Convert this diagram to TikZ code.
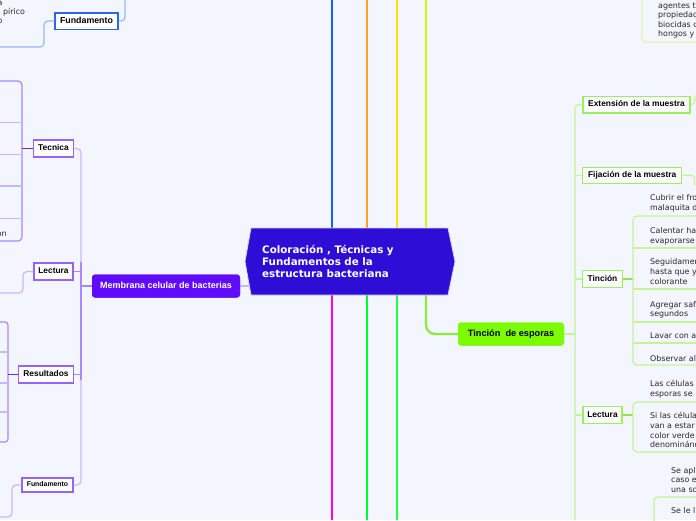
\documentclass[tikz,border=0pt]{standalone}
\usepackage{fontspec}
\setmainfont{Liberation Sans}
\newfontfamily\verd{DejaVu Sans}
\definecolor{bg}{RGB}{243,246,254}
\definecolor{cfill}{RGB}{46,14,214}
\definecolor{cborder}{RGB}{215,210,255}
\definecolor{violetf}{RGB}{96,12,250}
\definecolor{lawn}{RGB}{124,252,0}
\definecolor{cblue}{RGB}{20,95,240}
\definecolor{corange}{RGB}{255,160,30}
\definecolor{cyellow}{RGB}{255,222,0}
\definecolor{clime}{RGB}{204,255,0}
\definecolor{cmag}{RGB}{255,0,230}
\definecolor{cgreen}{RGB}{0,255,40}
\definecolor{cgreenb}{RGB}{30,255,70}
\definecolor{climeg}{RGB}{140,235,60}
\definecolor{purpB}{RGB}{150,100,252}
\definecolor{purpL}{RGB}{200,182,255}
\definecolor{purpM}{RGB}{170,135,255}
\definecolor{purpD}{RGB}{110,35,240}
\definecolor{greenB}{RGB}{155,240,95}
\definecolor{greenM}{RGB}{140,232,70}
\definecolor{lgreen}{RGB}{195,245,150}
\definecolor{ltop}{RGB}{222,245,170}
\definecolor{blueB}{RGB}{45,100,235}
\definecolor{blueL}{RGB}{150,185,255}
\definecolor{lav}{RGB}{195,185,255}
\definecolor{txt}{RGB}{40,40,40}
\tikzset{
  ttl/.style={draw, fill=white, line width=1.5pt, inner sep=0pt,
    font=\bfseries\fontsize{8.4}{10}\selectfont, text height=6.2pt, text depth=1.6pt},
  purpn/.style={ttl, draw=purpB},
  greenn/.style={ttl, draw=greenB},
  bluen/.style={ttl, draw=blueB, font=\bfseries\fontsize{8.8}{10}\selectfont},
  bodytxt/.style={anchor=west, inner sep=0pt, text=txt,
    font=\verd\fontsize{7.9}{9.8}\selectfont, text height=6pt, text depth=2pt},
  tailtxt/.style={bodytxt, anchor=east},
  conn/.style={line width=1.2pt, rounded corners=4pt},
  mainln/.style={line width=2.3pt},
}
\newcommand\bodyline[4]{\node[bodytxt] (#1) at (#2,#3) {#4};}
\begin{document}
\begin{tikzpicture}[x=1pt,y=-1pt]
\useasboundingbox (0,0) rectangle (696,520);
\fill[bg] (0,0) rectangle (696,520);
\clip (0,0) rectangle (696,520);

% ---------- nodes ----------
\node[minimum width=210pt, minimum height=67pt, inner sep=0pt] (C) at (350,261.5) {};
\node[fill=violetf, rounded corners=3pt, minimum width=148pt, minimum height=23pt, inner sep=0pt,
  text=white, font=\bfseries\fontsize{9}{11}\selectfont, text height=6.5pt, text depth=1.8pt] (M) at (166,286) {Membrana celular de bacterias};
\node[fill=lawn, rounded corners=3pt, minimum width=106pt, minimum height=23pt, inner sep=0pt,
  font=\bfseries\fontsize{9.2}{11}\selectfont, text height=6.6pt, text depth=1.8pt] (TE) at (511,334) {Tinción\ \ de esporas};

\node[bluen, minimum width=63pt, minimum height=16.5pt] (F1) at (86.5,21) {Fundamento};
\node[purpn, minimum width=40pt, minimum height=17pt] (Tec) at (53.5,148.5) {Tecnica};
\node[purpn, minimum width=39pt, minimum height=17pt] (Lec) at (53.5,271.5) {Lectura};
\node[purpn, minimum width=55pt, minimum height=17pt] (Res) at (46,374.5) {Resultados};
\node[purpn, minimum width=51pt, minimum height=14pt, font=\bfseries\fontsize{6.9}{8}\selectfont, text height=5pt, text depth=1.3pt] (F2) at (47.5,485) {Fundamento};

\node[greenn, minimum width=107pt, minimum height=16.5pt] (Ext) at (636.5,104.5) {Extensión de la muestra};
\node[greenn, minimum width=99pt, minimum height=16pt] (Fij) at (632.2,175.3) {Fijación de la muestra};
\node[greenn, minimum width=39.6pt, minimum height=16.6pt] (Tin) at (602.5,279) {Tinción};
\node[greenn, minimum width=39pt, minimum height=17pt] (LecR) at (602.5,415) {Lectura};

% ---------- coordinates ----------
\coordinate (u1) at (332,0);
\coordinate (u2) at (367,0);
\coordinate (u3) at (397,0);
\coordinate (u4) at (426,0);
\coordinate (d1) at (332,520);
\coordinate (d2) at (367,520);
\coordinate (d3) at (397,520);
\coordinate (gv) at (575,520);
\coordinate (tv) at (633,0);
\coordinate (pv) at (81,0);

% ---------- main branches ----------
\draw[mainln, draw=cblue] (C.north -| u1) -- (u1);
\draw[mainln, draw=corange] (C.north -| u2) -- (u2);
\draw[mainln, draw=cyellow] (C.north -| u3) -- (u3);
\draw[mainln, draw=clime] (C.north -| u4) -- (u4);
\draw[mainln, draw=cmag] (C.south -| d1) -- (d1);
\draw[mainln, draw=cgreen] (C.south -| d2) -- (d2);
\draw[mainln, draw=cgreenb] (C.south -| d3) -- (d3);
\draw[mainln, draw=climeg, rounded corners=9pt] (C.south -| u4) |- (TE.west);
\draw[conn, draw=lav] (M.east) -- (M.east -| C.center);

% ---------- right (green) tree ----------
\draw[conn, draw=lgreen] (Ext.west) -| (gv);
\draw[conn, draw=lgreen] (TE.east) -- (TE.east -| gv);
\draw[conn, draw=lgreen] (Fij.west) -- (Fij.west -| gv);
\draw[conn, draw=lgreen] (Tin.west) -- (Tin.west -| gv);
\draw[conn, draw=lgreen] (LecR.west) -- (LecR.west -| gv);
\draw[conn, draw=lgreen, rounded corners=3pt] (Ext.east) -- ++(4,0) -- ++(0,-9);
\draw[conn, draw=lgreen, rounded corners=3pt] (Fij.east) -- ++(12,0) -- ++(0,10);

\draw[conn, draw=greenM] (Tin.east) -- (Tin.east -| tv);
\draw[conn, draw=lgreen] (700,216) -- (633,216) -- (633,365) -- (700,365);
\foreach \yy in {248,289,322,343} \draw[line width=1.2pt, draw=lgreen] (633,\yy) -- (700,\yy);
\draw[conn, draw=greenM] (LecR.east) -- (LecR.east -| tv);
\draw[conn, draw=lgreen] (700,402) -- (633,402) -- (633,452) -- (700,452);
\draw[conn, draw=lgreen] (700,497) -- (654,497) -- (654,530);
\draw[conn, draw=ltop] (642,-10) -- (642,42) -- (700,42);

% ---------- left (purple) tree ----------
\draw[conn, draw=purpL] (Tec.east) -| (81,300) |- (F2.east);
\draw[conn, draw=purpM] (81,262) -- (81,380);
\draw[conn, draw=purpM] (M.west) -- (M.west -| pv);
\draw[conn, draw=purpM] (Lec.east) -- (Lec.east -| pv);
\draw[conn, draw=purpM] (Res.east) -- (Res.east -| pv);

\draw[conn, draw=purpM] (-5,81) -- (22,81) -- (22,241) -- (-5,241);
\foreach \yy in {122.3,154.3,186,218.3} \draw[line width=1.2pt, draw=purpL] (22,\yy) -- (-5,\yy);
\draw[conn, draw=purpD] (Tec.west) -- (Tec.west -| 22,0);
\draw[conn, draw=purpL] (Lec.west) -- (23,271.5) -- (23,293) -- (-5,293);
\draw[conn, draw=purpM, rounded corners=3pt] (-5,322) -- (8,322) -- (8,442) -- (-5,442);
\foreach \yy in {352,383,412} \draw[line width=1.2pt, draw=purpL] (8,\yy) -- (-5,\yy);
\draw[conn, draw=purpD] (Res.west) -- (Res.west -| 8,0);
\draw[conn, draw=purpL] (F2.west) -- (12,485) -- (12,517) -- (-5,517);

% ---------- top-left (blue) ----------
\draw[conn, draw=blueL] (F1.east) -- (125,21) -- (125,-10);
\draw[conn, draw=blueL] (F1.west) -- (44,21) -- (44,47) -- (-5,47);

% ---------- central shape (drawn over connectors) ----------
\path[fill=cfill, draw=cborder, line width=0.8pt] (251,228) -- (448,228) -- (455,261.5) -- (448,295) -- (251,295) -- (245,261.5) -- cycle;
\node[anchor=west, align=left, inner sep=0pt, text=white, font=\verd\bfseries\fontsize{10.3}{12}\selectfont] (Ct) at (262,261.3) {Coloración , Técnicas y\\Fundamentos de la\\estructura bacteriana};

% redraw nodes on top
\node[fill=violetf, rounded corners=3pt, minimum width=148pt, minimum height=23pt, inner sep=0pt,
  text=white, font=\bfseries\fontsize{9}{11}\selectfont, text height=6.5pt, text depth=1.8pt] (M2) at (M) {Membrana celular de bacterias};
\node[fill=lawn, rounded corners=3pt, minimum width=106pt, minimum height=23pt, inner sep=0pt,
  font=\bfseries\fontsize{9.2}{11}\selectfont, text height=6.6pt, text depth=1.8pt] (TE2) at (TE) {Tinción\ \ de esporas};

% ---------- body texts (as far as the picture shows them) ----------
\bodyline{b1a}{650}{198.3}{Cubrir el fro}
\bodyline{b1b}{650}{208.3}{malaquita d}
\bodyline{b2a}{650}{231.7}{Calentar ha}
\bodyline{b2b}{650}{241.7}{evaporarse}
\bodyline{b3a}{650}{262.7}{Seguidamen}
\bodyline{b3b}{650}{272.5}{hasta que y}
\bodyline{b3c}{650}{282}{colorante}
\bodyline{b4a}{650}{305}{Agregar saf}
\bodyline{b4b}{650}{314.5}{segundos}
\bodyline{b5}{650}{336.7}{Lavar con a}
\bodyline{b6}{650}{359.3}{Observar al}
\bodyline{b7a}{650}{384}{Las células}
\bodyline{b7b}{650}{394}{esporas se}
\bodyline{b8a}{650}{416.7}{Si las célula}
\bodyline{b8b}{650}{426.4}{van a estar}
\bodyline{b8c}{650}{436}{color verde}
\bodyline{b8d}{650}{445.6}{denominánd}
\bodyline{b9a}{671}{471}{Se apl}
\bodyline{b9b}{671}{480.5}{caso e}
\bodyline{b9c}{671}{490}{una so}
\bodyline{b10}{671}{511.7}{Se le l}
\bodyline{t1}{658}{6}{agentes t}
\bodyline{t2}{658}{15.7}{propiedad}
\bodyline{t3}{658}{25}{biocidas c}
\bodyline{t4}{658}{34.3}{hongos y}
\bodyline{l1}{3}{12}{pírico}
\node[tailtxt] (l0) at (2.6,3) {a};
\node[tailtxt] (l2) at (2.6,21) {o};
\node[tailtxt] (l3) at (6.8,234) {on};
\end{tikzpicture}
\end{document}
